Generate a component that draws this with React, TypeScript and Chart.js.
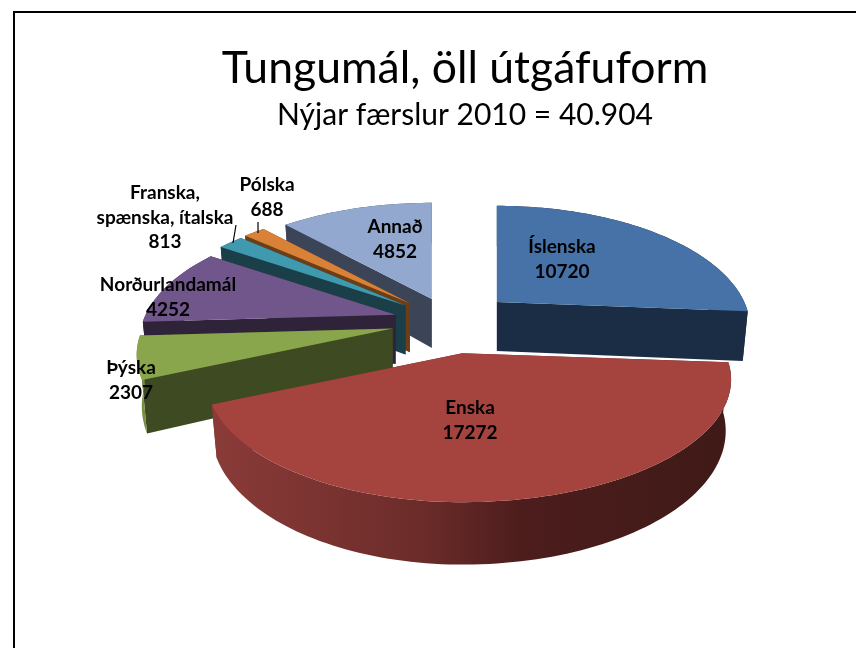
import React, { useEffect, useRef } from "react";
import { Chart, registerables } from "chart.js";

Chart.register(...registerables);

const categories = ["Íslenska", "Enska", "Þýska", "Norðurlandamál", "Franska, spænska, ítalska", "Pólska", "Annað"];
const values = [10720, 17272, 2307, 4252, 813, 688, 4852];
const labelLines = [["Íslenska"], ["Enska"], ["Þýska"], ["Norðurlandamál"], ["Franska,", "spænska, ítalska"], ["Pólska"], ["Annað"]];
const explode = [25, 27, 24, 23, 23, 23, 21];
const rightStretch = [0.99, 1.05, 1, 1, 1, 1, 1];
const topColors = ["#4672A8", "#A5433F", "#8AA64C", "#71568C", "#3F99AF", "#DA8138", "#92A8CF"];
const sideColors = ["#1B2D45", "#6E2C29", "#3E4A22", "#2E2339", "#1A3F49", "#6B3E17", "#3C4557"];
const wallColors = ["#1B2D45", "#6E2C29", "#76903F", "#2E2339", "#1A3F49", "#6B3E17", "#3C4557"];
const titleText = "Tungumál, öll útgáfuform";
const subtitleText = "Nýjar færslur 2010 = 40.904";

const FONT = "Lato, Carlito, Calibri, sans-serif";
const view = { cx: 451, cy: 322, rx: 250, ry: 117, persp: 0.215, depth: 49, shrink: 0.98 };
const labelAt = [
  [562, 247], [470, 408], [131, 368], [168, 285], [165, 193], [267, 185], [395, 227],
];
const leaders = [
  [236, 225, 233, 243],
  [258, 222, 258, 233],
];

const pie3d = {
  id: "pie3d",
  beforeDraw(chart: any) {
    const c = chart.ctx;
    c.save();
    c.fillStyle = "#000";
    c.fillRect(13, 11, 843, 2);
    c.fillRect(13, 11, 2, 637);
    c.restore();
  },
  beforeDatasetsDraw(chart: any) {
    const c = chart.ctx;
    const meta = chart.getDatasetMeta(0);
    const order = meta.data
      .map((arc: any, i: number) => ({ arc, i, mid: (arc.startAngle + arc.endAngle) / 2 }))
      .sort((a: any, b: any) => Math.sin(a.mid) - Math.sin(b.mid));

    for (const { arc, i, mid } of order) {
      const e = arc.options.offset / 100;
      const ax = view.cx + e * view.rx * Math.cos(mid);
      const ay = view.cy + e * view.ry * Math.sin(mid);
      const rim = (a: number) => {
        const wx = Math.cos(a);
        const wy = Math.sin(a);
        const s = 1 / (1 - view.persp * wy);
        return {
          x: ax + wx * s * view.rx * (wx > 0 ? rightStretch[i] : 1),
          y: ay + wy * s * view.ry,
          s,
        };
      };
      const low = (p: any) => ({
        x: ax + (p.x - ax) * view.shrink,
        y: p.y + view.depth * p.s,
      });
      const apex = { x: ax, y: ay, s: 1 };
      const n = Math.max(4, Math.ceil((arc.endAngle - arc.startAngle) * 40));
      const rimPts: any[] = [];
      for (let k = 0; k <= n; k++) rimPts.push(rim(arc.startAngle + ((arc.endAngle - arc.startAngle) * k) / n));

      const poly = (pts: any[], fill: any) => {
        c.beginPath();
        pts.forEach((p, k) => (k ? c.lineTo(p.x, p.y) : c.moveTo(p.x, p.y)));
        c.closePath();
        c.fillStyle = fill;
        c.fill();
      };

      // radial cut faces
      const first = rimPts[0];
      const last = rimPts[n];
      poly([apex, first, low(first), low(apex)], sideColors[i]);
      poly([apex, last, low(last), low(apex)], sideColors[i]);

      // curved outer wall
      let wall: any = wallColors[i];
      if (i === 1) {
        const g = c.createLinearGradient(212, 0, 730, 0);
        g.addColorStop(0, "#8A3B38");
        g.addColorStop(0.4, "#6C2C2A");
        g.addColorStop(0.6, "#4C1D1C");
        g.addColorStop(1, "#3F1A17");
        wall = g;
      }
      poly([...rimPts, ...rimPts.slice().reverse().map(low)], wall);

      // top face
      poly([apex, ...rimPts], topColors[i]);
    }

    // labels
    c.save();
    c.fillStyle = "#000";
    c.strokeStyle = "#000";
    c.lineWidth = 1.2;
    c.font = `bold 19px ${FONT}`;
    c.textAlign = "center";
    c.textBaseline = "middle";
    labelLines.forEach((lines, i) => {
      const [x, y] = labelAt[i];
      const all = [...lines, String(values[i])];
      all.forEach((t, k) => c.fillText(t, x, y + k * 24.4));
    });
    leaders.forEach(([x1, y1, x2, y2]) => {
      c.beginPath();
      c.moveTo(x1, y1);
      c.lineTo(x2, y2);
      c.stroke();
    });
    c.restore();
    return false;
  },
};

export default function App() {
  const ref = useRef<HTMLCanvasElement>(null);
  useEffect(() => {
    document.body.style.margin = "0";
    const chart = new Chart(ref.current as HTMLCanvasElement, {
      type: "pie",
      data: {
        labels: categories,
        datasets: [{ data: values, backgroundColor: topColors, offset: explode, borderWidth: 0 }],
      },
      options: {
        animation: false,
        responsive: false,
        rotation: 0,
        layout: { padding: { left: 74 } },
        plugins: {
          legend: { display: false },
          tooltip: { enabled: false },
          title: {
            display: true,
            text: titleText,
            color: "#000",
            font: { family: FONT, size: 44.5, weight: "normal" },
            padding: { top: 42, bottom: 0 },
          },
          subtitle: {
            display: true,
            text: subtitleText,
            color: "#000",
            font: { family: FONT, size: 30, weight: "normal" },
            padding: { top: 2, bottom: 0 },
          },
        },
      },
      plugins: [pie3d],
    } as any);
    return () => chart.destroy();
  }, []);
  return <canvas ref={ref} width={856} height={648} style={{ display: "block" }} />;
}
